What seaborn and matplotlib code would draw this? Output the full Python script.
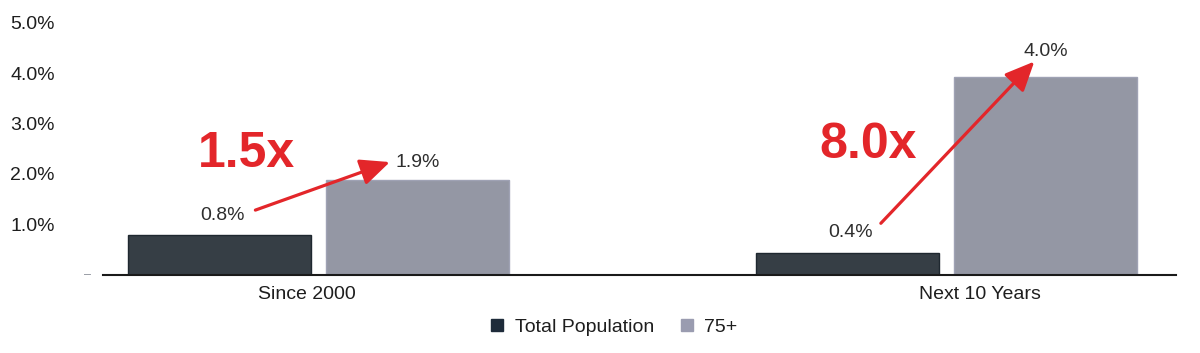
import matplotlib
matplotlib.use("Agg")
import matplotlib.pyplot as plt
from matplotlib.lines import Line2D
import seaborn as sns
import pandas as pd

# ---- data ----
categories = ["Since 2000", "Next 10 Years"]
series = ["Total Population", "75+"]
total_population = [0.79, 0.43]
age_75_plus = [1.88, 3.93]
total_labels = ["0.8%", "0.4%"]
age_75_labels = ["1.9%", "4.0%"]
multipliers = ["1.5x", "8.0x"]
y_ticks = [1, 2, 3, 4, 5]
y_tick_labels = ["1.0%", "2.0%", "3.0%", "4.0%", "5.0%"]

df = pd.DataFrame({
    "period": categories * 2,
    "group": [series[0]] * 2 + [series[1]] * 2,
    "value": total_population + age_75_plus,
})

# ---- style ----
sns.set_style("white")
plt.rcParams["font.family"] = ["Liberation Sans", "DejaVu Sans"]
DARK = "#333e48"
LIGHT = "#9195a7"
RED = "#e3262a"
TXT = "#1e1e1e"

fig = plt.figure(figsize=(12, 3.53), dpi=100)
ax = fig.add_axes([103 / 1200, 78 / 353, (1176 - 103) / 1200, (275 - 22.5) / 353])

sns.barplot(data=df, x="period", y="value", hue="group", order=categories,
            hue_order=series, palette=[DARK, LIGHT], width=0.631, gap=0.076,
            legend=False, ax=ax, linewidth=1)
for patch in ax.containers[0]:
    patch.set_edgecolor("#1f2830")
for patch in ax.containers[1]:
    patch.set_edgecolor("#9fa2b4")

ax.set_xlim(-0.344, 1.366)
ax.set_ylim(0, 5)
ax.set_xlabel("")
ax.set_ylabel("")
for s in ["top", "right", "left"]:
    ax.spines[s].set_visible(False)
ax.spines["bottom"].set_color("#1a1a1a")
ax.spines["bottom"].set_linewidth(1.5)
ax.set_yticks(y_ticks)
ax.set_yticklabels(y_tick_labels, fontsize=14, color=TXT)
ax.tick_params(axis="y", length=0, pad=34.6)
ax.set_xticks([])
ax.grid(False)

# zero label as dash
ax.annotate("–", xy=(0, 0), xycoords=("axes fraction", "data"), xytext=(-15, 0),
            textcoords="offset pixels", ha="center", va="center",
            fontsize=9, color="#8a8f99")

# category labels
cat_dx = [-12, 34]
for i, cat in enumerate(categories):
    ax.annotate(cat, xy=(i, 0), xycoords=("data", "axes fraction"),
                xytext=(cat_dx[i], -11), textcoords="offset pixels",
                ha="center", va="top", fontsize=14, color=TXT)

# value labels
tot_up = [20, 21]
age_up = [18, 25]
for i, p in enumerate(ax.containers[0]):
    ax.annotate(total_labels[i], xy=(p.get_x() + p.get_width() / 2, p.get_height()),
                xytext=(3, tot_up[i]), textcoords="offset pixels",
                ha="center", va="center", fontsize=14, color="#2e2e2e")
for i, p in enumerate(ax.containers[1]):
    ax.annotate(age_75_labels[i], xy=(p.get_x() + p.get_width() / 2, p.get_height()),
                xytext=(0, age_up[i]), textcoords="offset pixels",
                ha="center", va="center", fontsize=14, color="#2e2e2e")

# arrows and multipliers
start_off = [(35.5, 25), (33.5, 30)]
end_off = [(-28, 18), (-11, 15)]
mult_off = [(27, 81), (21, 108)]
for i in range(len(categories)):
    pt = ax.containers[0][i]
    pa = ax.containers[1][i]
    t = ax.transData.transform((pt.get_x() + pt.get_width() / 2, pt.get_height()))
    a = ax.transData.transform((pa.get_x() + pa.get_width() / 2, pa.get_height()))
    start = (t[0] + start_off[i][0], t[1] + start_off[i][1])
    end = (a[0] + end_off[i][0], a[1] + end_off[i][1])
    ax.annotate("", xy=end, xycoords="figure pixels", xytext=start,
                textcoords="figure pixels",
                arrowprops=dict(arrowstyle="-|>,head_length=0.6,head_width=0.27",
                                color=RED, lw=2.3,
                                mutation_scale=30, shrinkA=0, shrinkB=0))
    ax.annotate(multipliers[i], xy=(t[0] + mult_off[i][0], t[1] + mult_off[i][1]),
                xycoords="figure pixels", ha="center", va="center",
                fontsize=36, fontweight="bold", color=RED)

# legend
handles = [Line2D([], [], marker="s", linestyle="none", markersize=8,
                  markerfacecolor=c, markeredgecolor=e)
           for c, e in [("#1e2b3a", "#1e2b3a"), ("#9a9cb0", "#9a9cb0")]]
fig.legend(handles, series, loc="center", bbox_to_anchor=(0.512, 0.074), ncol=2,
           frameon=False, fontsize=14, handlelength=0.6, handletextpad=0.6,
           columnspacing=1.4, labelcolor=TXT)

fig.savefig("out.png", dpi=100)
